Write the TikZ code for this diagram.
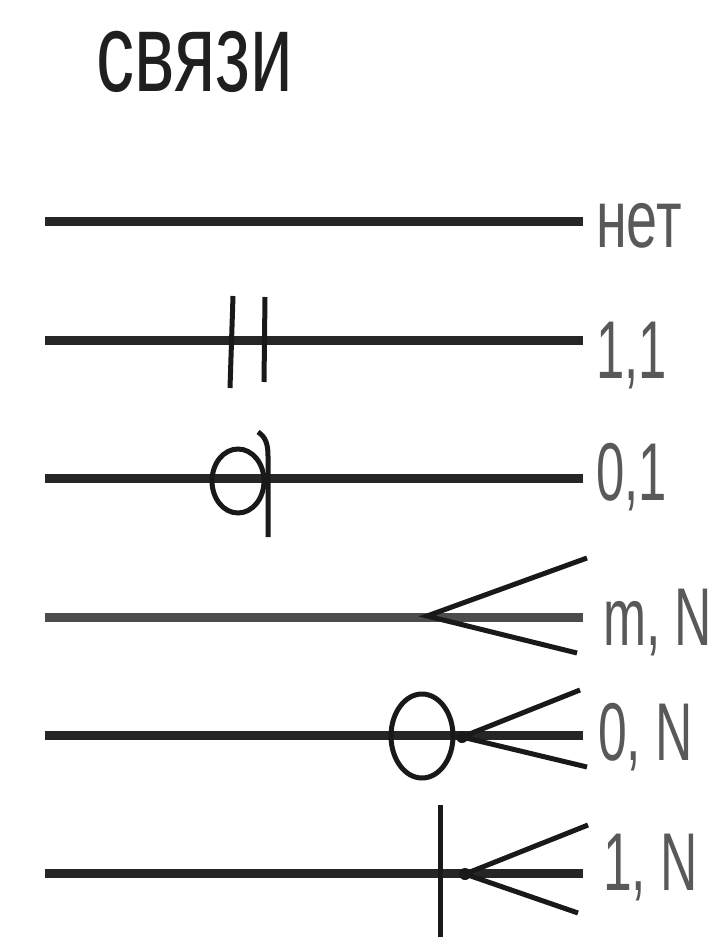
\documentclass[tikz,border=0pt]{standalone}
\usepackage{fontspec}
\setmainfont{Liberation Sans}
\begin{document}
\begin{tikzpicture}[x=1pt,y=-1pt,
  rel/.style={line width=9pt, draw=black!85},
  sym/.style={line width=5pt, draw=black!90},
  lab/.style={anchor=base west, inner sep=0pt, text=black!65,
              font=\fontsize{82}{82}\selectfont},
  ttl/.style={inner sep=0pt, text=black!88, font=\fontsize{112}{112}\selectfont}]
\useasboundingbox (0,0) rectangle (727,952);
\fill[white] (0,0) rectangle (727,952);

\node[ttl] (title) at (195,62) {\scalebox{0.68}[1]{связи}};

% labels
\node[lab] (t1) at (596,247) {\scalebox{0.68}[1]{нет}};
\node[lab] (t2) at (596,378) {\scalebox{0.62}[1]{1,1}};
\node[lab] (t3) at (596,500) {\scalebox{0.62}[1]{0,1}};
\node[lab] (t4) at (603,645) {\scalebox{0.63}[1]{m, N}};
\node[lab] (t5) at (598,760) {\scalebox{0.63}[1]{0, N}};
\node[lab] (t6) at (603,890) {\scalebox{0.63}[1]{1, N}};

% line end points
\coordinate (a1) at (45,221);  \coordinate (b1) at (583,221);
\coordinate (a2) at (45,340);  \coordinate (b2) at (583,340);
\coordinate (a3) at (45,478);  \coordinate (b3) at (583,478);
\coordinate (a4) at (45,617);  \coordinate (b4) at (583,617);
\coordinate (a5) at (45,735);  \coordinate (b5) at (583,735);
\coordinate (a6) at (45,873);  \coordinate (b6) at (583,873);

\draw[rel] (a1) -- (b1);
\draw[rel] (a2) -- (b2);
\draw[rel] (a3) -- (b3);
\draw[rel,draw=black!70] (a4) -- (b4);
\draw[rel] (a5) -- (b5);
\draw[rel] (a6) -- (b6);

% 1,1 : two ticks
\draw[sym] (233,296) -- (230,388);
\draw[sym] (265,297) -- (264,382);

% 0,1 : circle and hooked bar
\draw[sym] (238,481) ellipse [x radius=26, y radius=32];
\draw[sym] (258,432) .. controls (266,437) and (268,445) .. (268,456) -- (268,537);

% m,N : crow's foot
\coordinate (c4) at (427,616);
\draw[sym] (587,558) -- (c4) -- (577,653);

% 0,N : circle and crow's foot
\draw[sym] (422,736) ellipse [x radius=31, y radius=42];
\coordinate (c5) at (462,737);
\draw[sym] (580,690) -- (c5) -- (587,767);
\fill[black!90] (c5) circle (6);

% 1,N : bar and crow's foot
\draw[sym] (440,805) -- (440,937);
\coordinate (c6) at (465,874);
\draw[sym] (588,825) -- (c6) -- (578,913);
\fill[black!90] (c6) circle (6);
\end{tikzpicture}
\end{document}
